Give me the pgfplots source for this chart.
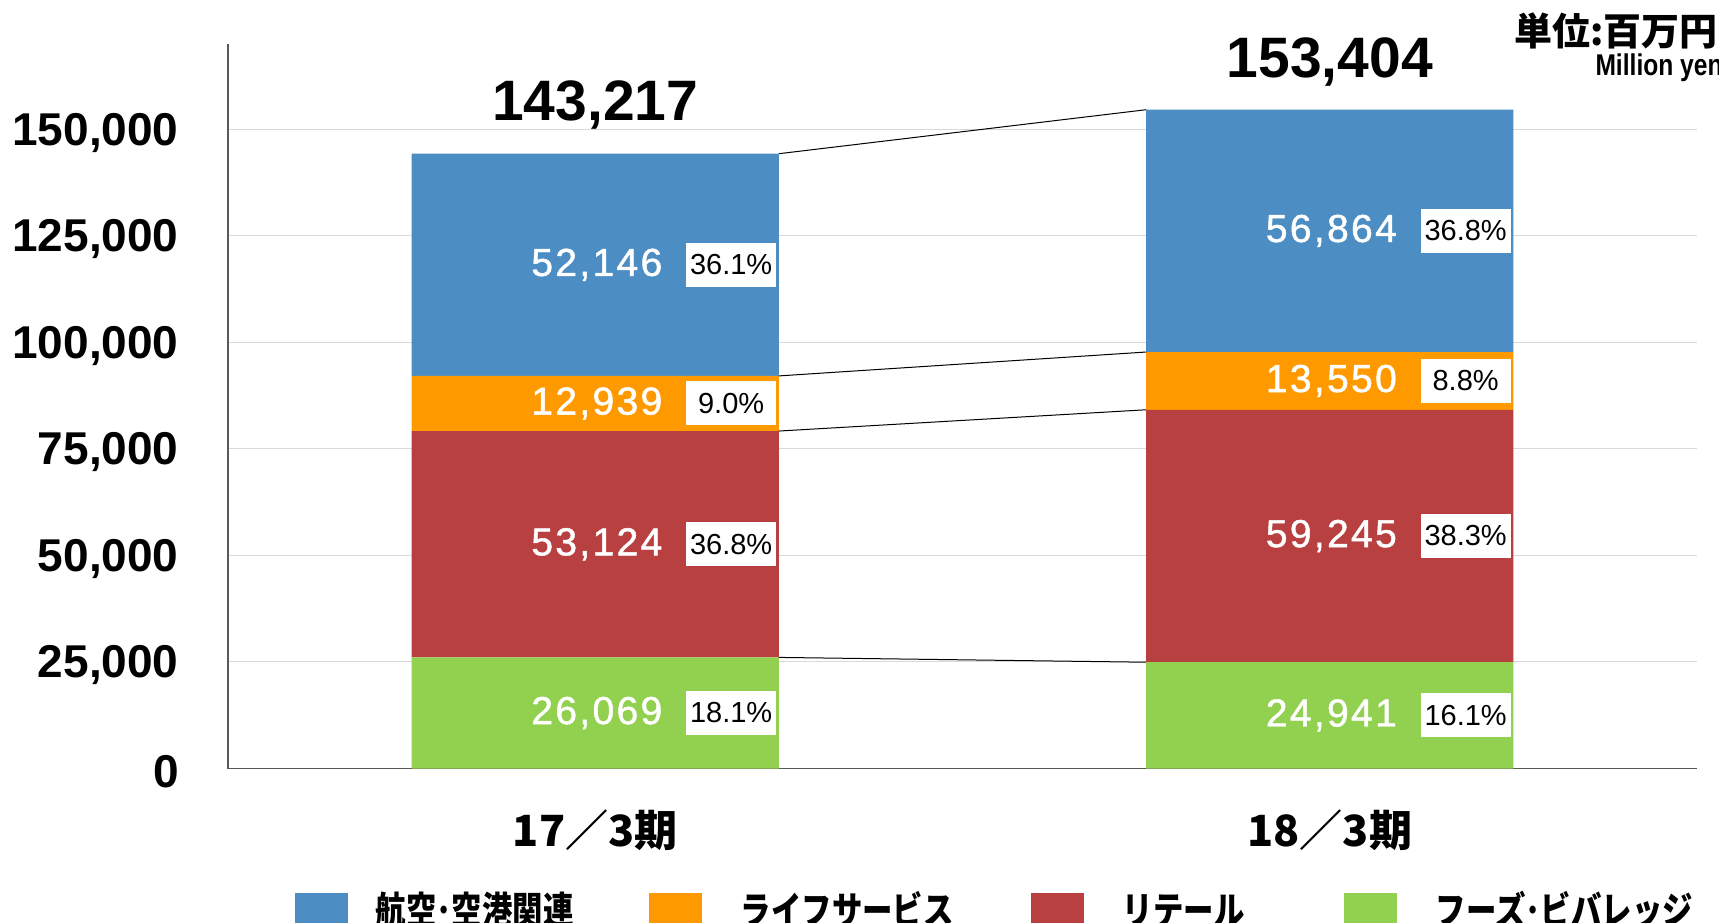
\documentclass[border=0pt]{standalone}
\usepackage{pgfplots}
\pgfplotsset{compat=1.18}
\usepackage{fontspec}
\setmainfont{Liberation Sans}
\newfontfamily\jp{Noto Sans CJK JP}
\newfontfamily\jpleg[FakeStretch=0.8]{Noto Sans CJK JP}
\newfontfamily\narrow[FakeStretch=0.82]{Liberation Sans}
\newfontfamily\spaced[LetterSpace=6,FakeBold=1.2]{Liberation Sans}
\definecolor{cblue}{RGB}{76,142,196}
\definecolor{corange}{RGB}{255,153,0}
\definecolor{cred}{RGB}{185,64,64}
\definecolor{cgreen}{RGB}{146,208,80}
\definecolor{cgrid}{RGB}{217,217,217}
\definecolor{caxis}{RGB}{89,89,89}
\newcommand{\legtxt}[1]{\raisebox{-3.3pt}[0pt][0pt]{#1}}
\pgfplotsset{
  sqleg/.style={legend image code/.code={\fill[##1] (0pt,-13.25pt) rectangle (26.5pt,13.25pt);}},
  common/.style={width=734.5pt, height=362.2pt, scale only axis,
    xmin=0, xmax=4, ymin=0, ymax=170000},
}
\begin{document}
\begin{tikzpicture}
\begin{axis}[common,
  ybar stacked, bar width=1,
  axis x line*=bottom, axis y line*=left,
  axis line style={caxis, line width=0.75pt, -},
  xtick={1,3}, xticklabels={17／3期, 18／3期},
  ytick={0,25000,50000,75000,100000,125000,150000},
  ymajorgrids, grid style={cgrid, line width=0.5pt},
  major tick length=0pt, tick style={draw=none},
  scaled y ticks=false,
  yticklabel style={/pgf/number format/.cd, fixed, 1000 sep={,}, assume math mode=true,
    /tikz/.cd, font=\bfseries\fontsize{23pt}{23pt}\selectfont, anchor=east, inner sep=0pt, xshift=-24.5pt, yshift=-1.6pt},
  xticklabel style={font=\jp\bfseries\fontsize{21.5pt}{21.5pt}\selectfont, anchor=center, yshift=-30.75pt},
  legend style={at={(0.0456,-0.2084)}, anchor=west, draw=none, fill=none, inner sep=0pt, outer sep=0pt,
    font=\jpleg\bfseries\fontsize{19pt}{19pt}\selectfont, nodes={inner sep=0pt}, column sep=0pt},
  legend columns=4, legend cell align=left, reverse legend,
]
\addplot[fill=cgreen, draw=none, sqleg] coordinates {(1,26069) (3,24941)};
\addlegendentry{\hspace*{19.5pt}\legtxt{フーズ･ビバレッジ}}
\addplot[fill=cred, draw=none, sqleg] coordinates {(1,53124) (3,59245)};
\addlegendentry{\hspace*{19.5pt}\makebox[110.5pt][l]{\legtxt{リテール}}}
\addplot[fill=corange, draw=none, sqleg] coordinates {(1,12939) (3,13550)};
\addlegendentry{\hspace*{19.5pt}\makebox[145pt][l]{\legtxt{ライフサービス}}}
\addplot[fill=cblue, draw=none, sqleg] coordinates {(1,52146) (3,56864)};
\addlegendentry{\hspace*{14pt}\makebox[136.5pt][l]{\legtxt{航空･空港関連}}}
\end{axis}
\begin{axis}[common, hide axis, clip=false]
\addplot[black, line width=0.5pt] coordinates {(1.5,26069) (2.5,24941)};
\addplot[black, line width=0.5pt] coordinates {(1.5,79193) (2.5,84186)};
\addplot[black, line width=0.5pt] coordinates {(1.5,92132) (2.5,97736)};
\addplot[black, line width=0.5pt] coordinates {(1.5,144278) (2.5,154600)};
% segment values (white)
\addplot[draw=none, mark=none, nodes near coords, point meta=explicit symbolic,
  nodes near coords align=center,
  every node near coord/.append style={anchor=center, text=white, inner sep=0pt, xshift=0.8pt,
    font=\spaced\fontsize{19.5pt}{19.5pt}\selectfont}]
  table[meta=label] {
x y label
1 13034.5 26,069
1 52631 53,124
1 85662.5 12,939
1 118205 52,146
3 12470.5 24,941
3 54563.5 59,245
3 90961 13,550
3 126168 56,864
};
% percentage boxes
\addplot[draw=none, mark=none, nodes near coords={\pgfplotspointmeta\%}, point meta=explicit symbolic,
  nodes near coords align=center,
  every node near coord/.append style={anchor=center, text=black, fill=white, inner sep=0pt,
    minimum width=45pt, minimum height=22pt,
    font=\fontsize{14.5pt}{14.5pt}\selectfont}]
  table[meta=label] {
x y label
1.37 13034.5 18.1
1.37 52631 36.8
1.37 85662.5 9.0
1.37 118205 36.1
3.37 12470.5 16.1
3.37 54563.5 38.3
3.37 90961 8.8
3.37 126168 36.8
};
% totals
\addplot[draw=none, mark=none, nodes near coords, point meta=explicit symbolic,
  nodes near coords align=center,
  every node near coord/.append style={anchor=center, text=black, inner sep=0pt,
    font=\bfseries\fontsize{28.5pt}{28.5pt}\selectfont}]
  table[meta=label] {
x y label
1 155600 143,217
3 165730 153,404
};
\end{axis}
\node[anchor=east, inner sep=0pt, font=\jp\bfseries\fontsize{19pt}{19pt}\selectfont] at (745pt,368.75pt) {単位:百万円};
\node[anchor=east, inner sep=0pt, font=\narrow\bfseries\fontsize{15pt}{15pt}\selectfont] at (747.5pt,350.25pt) {Million yen};
\pgfresetboundingbox
\useasboundingbox (-114pt,-76.75pt) rectangle (745.5pt,384.25pt);
\end{tikzpicture}
\end{document}
